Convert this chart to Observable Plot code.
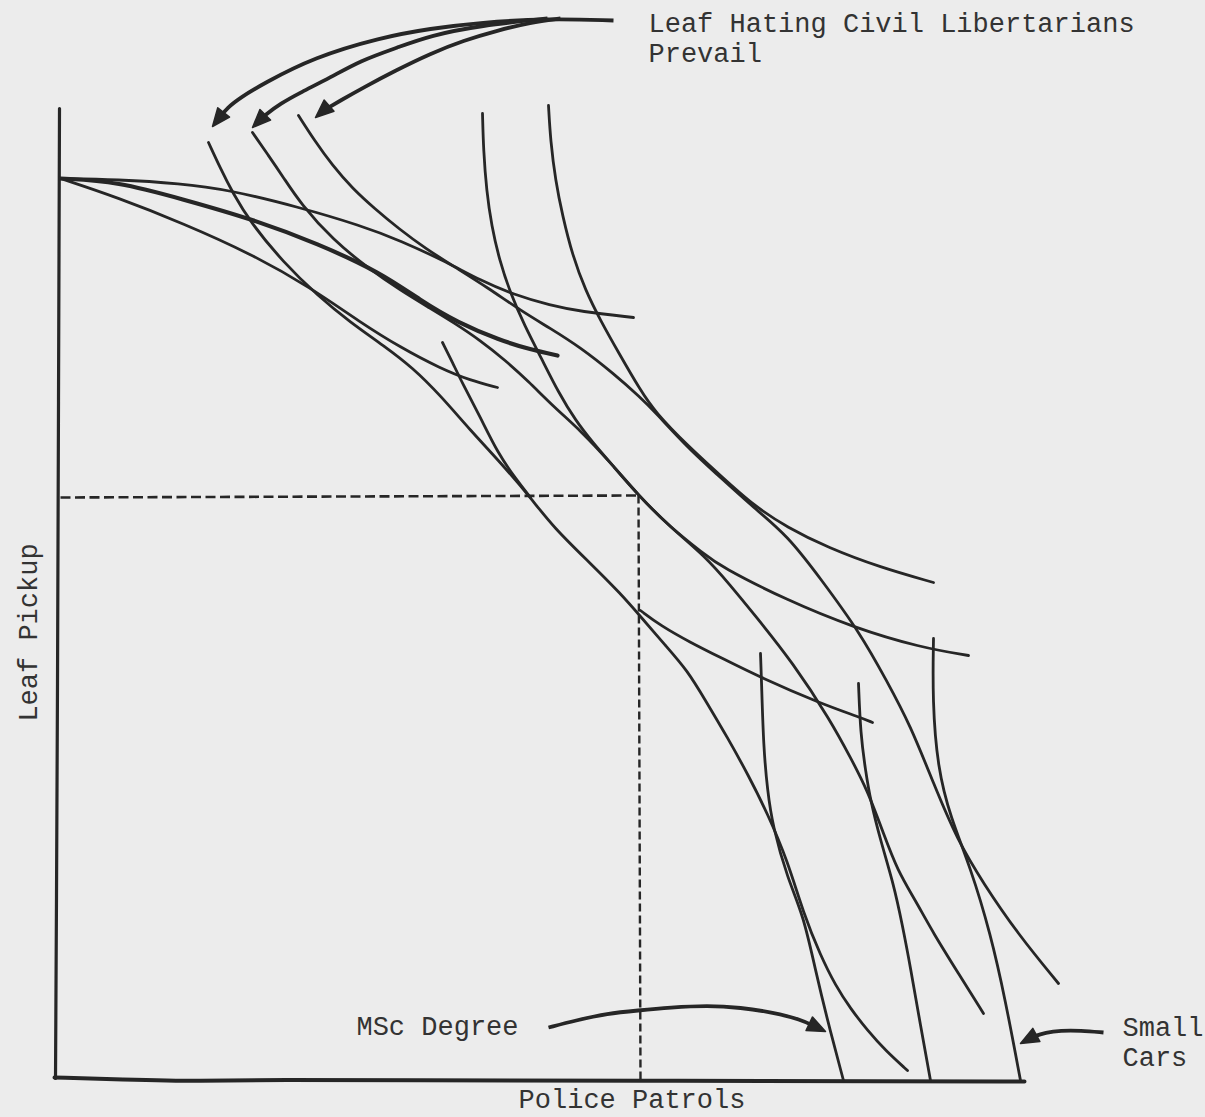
<!DOCTYPE html>
<html><head><meta charset="utf-8">
<script src="https://cdn.jsdelivr.net/npm/d3@7"></script>
<script src="https://cdn.jsdelivr.net/npm/@observablehq/plot@0.6"></script>
<style>html,body{margin:0;padding:0;background:#ececec;} #chart svg{display:block;}</style>
</head><body><div id="chart"></div>
<script>
// ---- Data (Police Patrols = x, Leaf Pickup = y, arbitrary units) ----
const axisLabelX = "Police Patrols";
const axisLabelY = "Leaf Pickup";
const noteLibertarians = "Leaf Hating Civil Libertarians\nPrevail";
const noteDegree = "MSc Degree";
const noteCars = "Small\nCars";

// hand-drawn axes
const axisY = [[1,972],[0,680],[-1,380],[-2,180],[-3,2]];
const axisX = [[-4,3],[62,1],[142,-1],[222,1],[342,0],[582,0],[842,-1],[966,-1]];

// dashed guide
const guideH = [[2,583],[580,585]];
const guideV = [[580,585],[582,0]];

// curves fanning from the y axis
const fan1 = [[2,902],[59,901],[122,897],[169,891],[242,873],[302,855],[342,840],[389,818],[422,800],[455,786],[492,775],[522,769],[575,763]];
const fan2 = [[2,902],[59,899],[125,881],[192,862],[259,837],[322,808],[362,780],[399,758],[442,740],[472,731],[499,725]];
const fan3 = [[2,902],[59,883],[125,857],[192,827],[252,793],[302,758],[342,733],[382,712],[412,700],[439,693]];

// curves under the three arrows
const curveC1 = [[150,938],[162,912],[174,888],[192,858],[225,818],[259,785],[292,758],[325,735],[354,713],[382,685],[412,650],[442,618],[472,583],[495,553],[532,517],[562,487],[582,464],[607,435],[629,410],[647,380],[669,343],[690,305],[709,267],[729,220],[745,167],[762,125],[777,95],[792,72],[809,50],[827,30],[849,10]];
const curveC2 = [[194,948],[210,925],[225,903],[242,877],[275,840],[309,813],[342,790],[372,772],[395,758],[422,740],[447,720],[469,700],[497,672],[522,650],[552,618],[580,585],[612,553],[645,527],[662,514],[729,480],[795,453],[862,433],[910,425]];
const curveC3 = [[240,965],[256,940],[274,915],[294,892],[316,872],[340,852],[367,832],[397,813],[429,793],[462,770],[492,752],[522,733],[555,707],[582,683],[597,668],[629,633],[662,603],[695,573],[729,545],[762,502],[802,447],[828,400],[852,355],[875,297],[899,240],[925,197],[959,147],[1000,97]];
const shortS1 = [[384,738],[394,718],[404,697],[422,663],[439,628],[457,602],[472,583]];

// steep curves from the top
const steepV1 = [[424,967],[425,930],[428,890],[433,855],[441,820],[452,787],[466,755],[483,722],[500,688],[517,660],[535,637],[555,614],[580,585],[612,553],[647,524],[672,495],[695,467],[735,417],[772,360],[792,323],[809,290],[825,247],[839,210],[857,180],[875,147],[900,107],[925,67]];
const steepV2 = [[490,975],[492,940],[497,900],[504,865],[514,825],[527,790],[542,760],[560,728],[582,690],[597,668],[629,635],[662,605],[695,575],[729,553],[769,533],[822,513],[875,498]];
const curveN2 = [[582,470],[602,455],[632,438],[662,423],[702,403],[762,377],[802,363],[814,358]];

// near-vertical curves at lower right
const steepV3 = [[702,427],[703,400],[705,333],[709,290],[714,255],[729,202],[745,165],[757,110],[769,60],[785,0]];
const steepV4 = [[800,397],[802,347],[807,310],[812,280],[822,240],[835,197],[844,155],[852,113],[862,55],[872,0]];
const steepV5 = [[875,442],[874,380],[879,313],[892,263],[912,213],[932,147],[947,80],[962,0]];

// annotation arrows
const arrowLib1 = [[555,1060],[489,1062],[422,1058],[372,1052],[322,1043],[255,1023],[205,997],[182,983],[169,973],[154,954]];
const arrowLib2 = [[489,1062],[422,1055],[372,1045],[339,1033],[302,1020],[272,1003],[242,988],[222,977],[206,965],[194,953]];
const arrowLib3 = [[502,1062],[472,1058],[439,1050],[405,1040],[372,1027],[337,1010],[305,993],[282,980],[265,970],[257,963]];
const arrowDegree = [[490,53],[517,60],[549,67],[579,70],[612,73],[649,75],[682,73],[715,68],[742,61],[767,49]];
const arrowCars = [[1045,48],[1022,50],[1002,50],[987,48],[975,44],[962,37]];

// ---- Build ----
const ink = "#262626";
const font = "Liberation Mono, DejaVu Sans Mono, monospace";

function rows(list) {
  const out = [];
  list.forEach((pts, id) => pts.forEach(([x, y]) => out.push({id, x, y})));
  return out;
}
function arrowParts(path, len = 18, half = 7.5) {
  const [tx, ty] = path[path.length - 1];
  const [px, py] = path[path.length - 2];
  let dx = tx - px, dy = ty - py;
  const L = Math.hypot(dx, dy); dx /= L; dy /= L;
  const bx = tx - dx * len, by = ty - dy * len;
  const shaft = path.slice(0, -1).concat([[tx - dx * len * 0.6, ty - dy * len * 0.6]]);
  const headTri = [[tx, ty], [bx - dy * half, by + dx * half], [bx + dy * half, by - dx * half]];
  return {shaft, headTri};
}

const arrows = [arrowLib1, arrowLib2, arrowLib3, arrowDegree, arrowCars].map((a) => arrowParts(a));

const thin = [fan1, fan3, curveC1, curveC2, curveC3, shortS1, steepV1, steepV2, curveN2, steepV3, steepV4, steepV5];
const thick = [fan2];

const chart = Plot.plot({
  width: 1205,
  height: 1117,
  marginLeft: 58,
  marginRight: 0,
  marginTop: 0,
  marginBottom: 37,
  x: {domain: [0, 1147], axis: null},
  y: {domain: [0, 1080], axis: null},
  style: {background: "#ececec", fontFamily: font, fontSize: "27px", color: ink},
  marks: [
    // axes
    Plot.line(axisY, {x: (d) => d[0], y: (d) => d[1], stroke: ink, strokeWidth: 3.2, curve: "basis"}),
    Plot.line(axisX, {x: (d) => d[0], y: (d) => d[1], stroke: ink, strokeWidth: 4, curve: "basis"}),
    // dashed guides
    Plot.line(guideH, {x: (d) => d[0], y: (d) => d[1], stroke: ink, strokeWidth: 2.6, strokeDasharray: "10,4.5", strokeLinecap: "butt"}),
    Plot.line(guideV, {x: (d) => d[0], y: (d) => d[1], stroke: ink, strokeWidth: 2.4, strokeDasharray: "8,4", strokeLinecap: "butt"}),
    // curves
    Plot.line(rows(thin), {x: "x", y: "y", z: "id", stroke: ink, strokeWidth: 2.8, curve: "basis"}),
    Plot.line(rows(thick), {x: "x", y: "y", z: "id", stroke: ink, strokeWidth: 4.2, curve: "basis"}),
    // arrows
    Plot.line(rows(arrows.map((a) => a.shaft)), {x: "x", y: "y", z: "id", stroke: ink, strokeWidth: 3.8, curve: "basis", strokeLinecap: "butt"}),
    Plot.line(rows(arrows.map((a) => a.headTri)), {x: "x", y: "y", z: "id", stroke: ink, fill: ink, strokeWidth: 1.5, curve: "linear-closed"}),
    // annotation texts
    Plot.text([arrowLib1[0]], {x: (d) => d[0], y: (d) => d[1], text: () => noteLibertarians, textAnchor: "start", lineAnchor: "top", lineHeight: 1.11, dx: 35, dy: -10, fill: "#333"}),
    Plot.text([arrowDegree[0]], {x: (d) => d[0], y: (d) => d[1], text: () => noteDegree, textAnchor: "end", lineAnchor: "middle", dx: -30, dy: -1, fill: "#333"}),
    Plot.text([arrowCars[0]], {x: (d) => d[0], y: (d) => d[1], text: () => noteCars, textAnchor: "start", lineAnchor: "top", lineHeight: 1.11, dx: 19, dy: -18, fill: "#333"}),
    // axis titles
    Plot.text([axisLabelX], {frameAnchor: "bottom", text: (d) => d, lineAnchor: "middle", dy: 19, fill: "#333"}),
    Plot.text([axisLabelY], {frameAnchor: "bottom-left", text: (d) => d, rotate: -90, textAnchor: "middle", lineAnchor: "middle", dx: -30, dy: -448, fill: "#333"})
  ]
});
document.getElementById("chart").append(chart);
</script></body></html>
